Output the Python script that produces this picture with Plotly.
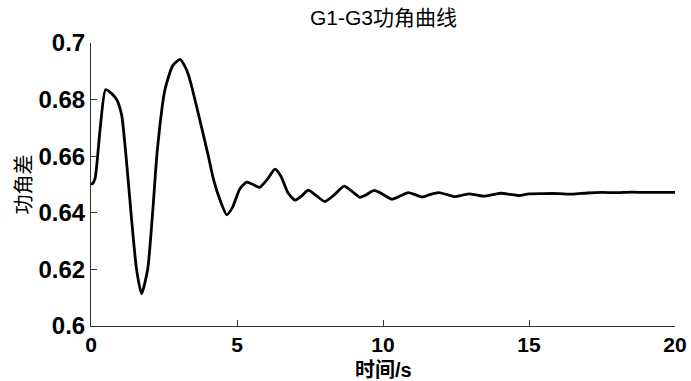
import plotly.graph_objects as go

t = [0.00, 0.05, 0.14, 0.31, 0.50, 0.70, 0.88, 1.05, 1.20, 1.37, 1.56, 1.73, 1.94, 2.11, 2.27,
     2.53, 2.80, 3.05, 3.25, 3.39, 3.70, 4.02, 4.19, 4.42, 4.65, 4.85, 5.10, 5.33, 5.55, 5.77,
     6.05, 6.30, 6.50, 6.75, 6.99, 7.22, 7.44, 7.70, 8.01, 8.35, 8.67, 8.95, 9.21, 9.45, 9.70,
     10.0, 10.30, 10.60, 10.87, 11.10, 11.35, 11.60, 11.90, 12.20, 12.47, 12.70, 12.95, 13.20,
     13.47, 13.75, 14.05, 14.35, 14.65, 15.0, 15.5, 16.0, 16.5, 17.0, 17.5, 18.0, 18.5, 19.0,
     19.5, 20.0]
angle = [0.6502, 0.6503, 0.6522, 0.6693, 0.6835, 0.6822, 0.6800, 0.6745, 0.6600, 0.6400, 0.6200,
         0.6114, 0.6200, 0.6400, 0.6620, 0.6834, 0.6920, 0.6942, 0.6910, 0.6869, 0.6740, 0.6600,
         0.6520, 0.6445, 0.6393, 0.6420, 0.6485, 0.6508, 0.6500, 0.6490, 0.6520, 0.6554, 0.6530,
         0.6470, 0.6445, 0.6460, 0.6480, 0.6462, 0.6440, 0.6465, 0.6494, 0.6475, 0.6455, 0.6465,
         0.6479, 0.6465, 0.6448, 0.6460, 0.6471, 0.6464, 0.6456, 0.6464, 0.6471, 0.6464, 0.6457,
         0.6462, 0.6467, 0.6463, 0.6459, 0.6464, 0.6469, 0.6465, 0.6461, 0.6467, 0.6468, 0.6468,
         0.6466, 0.6470, 0.6472, 0.6471, 0.6473, 0.6472, 0.6472, 0.6472]

x_ticks = [0, 5, 10, 15, 20]
y_ticks = [0.6, 0.62, 0.64, 0.66, 0.68, 0.7]
y_tick_text = ["0.6", "0.62", "0.64", "0.66", "0.68", "0.7"]

title_text = "G1-G3功角曲线"
x_title = "时间/s"
y_title = "功角差"

font_fam = "Liberation Sans, Arial, Noto Sans CJK SC, sans-serif"

fig = go.Figure()
fig.add_trace(go.Scatter(x=t, y=angle, mode="lines",
                         line=dict(color="black", width=2.8, shape="spline", smoothing=0.6),
                         showlegend=False, hoverinfo="skip"))

fig.update_layout(
    width=691, height=381,
    margin=dict(l=91, r=16, t=43, b=55),
    paper_bgcolor="white", plot_bgcolor="white",
    font=dict(family=font_fam, color="black"),
    showlegend=False,
    annotations=[
        dict(text=title_text, xref="paper", yref="paper", x=0.5, y=1, yshift=12,
             xanchor="center", yanchor="bottom", showarrow=False,
             font=dict(size=21, family=font_fam, color="black")),
        dict(text="<b>" + x_title + "</b>", xref="paper", yref="paper", x=0.5, y=0, yshift=-31,
             xanchor="center", yanchor="top", showarrow=False,
             font=dict(size=20, family=font_fam, color="black")),
        dict(text=y_title, xref="paper", yref="paper", x=0, xshift=-68, y=0.5,
             xanchor="center", yanchor="middle", showarrow=False, textangle=-90,
             font=dict(size=20, family=font_fam, color="black")),
    ],
)
fig.update_xaxes(range=[0, 20], tickmode="array", tickvals=x_ticks,
                 ticks="inside", ticklen=6, tickwidth=1, tickcolor="#333",
                 showline=True, linecolor="#333", linewidth=1, mirror=False,
                 showgrid=False, zeroline=False, automargin=False,
                 tickfont=dict(size=21, family=font_fam, weight="bold"))
fig.update_yaxes(range=[0.6, 0.7], tickmode="array", tickvals=y_ticks, ticktext=y_tick_text,
                 ticks="inside", ticklen=6, tickwidth=1, tickcolor="#333",
                 showline=True, linecolor="#333", linewidth=1, mirror=False,
                 showgrid=False, zeroline=False, automargin=False,
                 tickfont=dict(size=24, family=font_fam, weight="bold"))

fig.write_html("out.html")
